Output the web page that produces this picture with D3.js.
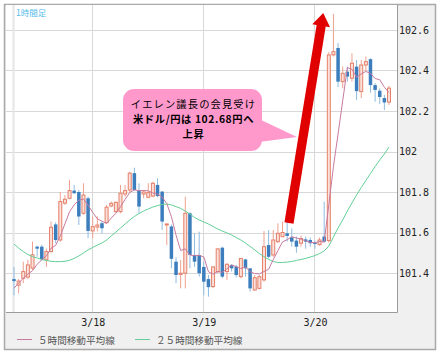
<!DOCTYPE html>
<html><head><meta charset="utf-8">
<script src="https://cdn.jsdelivr.net/npm/d3@7"></script>
<style>html,body{margin:0;padding:0;background:#fff;} svg{display:block}</style>
</head><body>
<svg id="c" width="440" height="357"></svg>
<script>
// ---- data (hourly USD/JPY, 3/17 07:00 .. 3/20 16:00) ----
const opens = [101.37,101.34,101.374,101.38,101.424,101.53,101.53,101.465,101.506,101.64,
101.563,101.745,101.769,101.807,101.80,101.695,101.769,101.608,101.627,101.646,
101.649,101.731,101.703,101.703,101.79,101.81,101.893,101.807,101.79,101.774,
101.78,101.835,101.802,101.638,101.63,101.456,101.393,101.399,101.695,101.489,
101.489,101.43,101.37,101.333,101.407,101.525,101.407,101.44,101.431,101.382,
101.467,101.423,101.316,101.324,101.366,101.538,101.489,101.555,101.579,101.596,
101.576,101.56,101.547,101.566,101.563,101.55,101.54,101.58,101.56,102.477,
102.511,102.345,102.394,102.362,102.419,102.296,102.427,102.456,102.328,102.30,
102.264,102.244];
const highs = [101.43,101.37,101.456,101.465,101.555,101.535,101.54,101.52,101.654,101.65,
101.80,101.785,101.86,101.835,101.81,101.843,101.777,101.68,101.68,101.654,
101.736,101.753,101.753,101.835,101.835,101.90,101.92,101.843,101.81,101.843,
101.851,101.868,101.805,101.645,101.64,101.478,101.464,101.777,101.70,101.596,
101.604,101.456,101.39,101.435,101.522,101.53,101.448,101.443,101.44,101.472,
101.47,101.423,101.39,101.39,101.607,101.612,101.612,101.645,101.653,101.653,
101.62,101.58,101.585,101.58,101.575,101.56,101.575,101.752,102.49,102.68,
102.536,102.42,102.42,102.485,102.452,102.452,102.469,102.46,102.337,102.312,
102.28,102.324];
const lows = [101.29,101.30,101.35,101.37,101.415,101.48,101.46,101.43,101.50,101.547,
101.555,101.736,101.764,101.79,101.637,101.687,101.572,101.572,101.605,101.596,
101.646,101.725,101.698,101.695,101.777,101.80,101.807,101.695,101.769,101.769,
101.774,101.774,101.613,101.538,101.423,101.35,101.324,101.324,101.423,101.43,
101.382,101.29,101.283,101.325,101.40,101.374,101.366,101.407,101.378,101.374,
101.382,101.308,101.313,101.319,101.357,101.472,101.48,101.547,101.579,101.555,
101.53,101.50,101.53,101.52,101.53,101.52,101.535,101.55,101.55,102.469,
102.318,102.312,102.345,102.345,102.254,102.263,102.394,102.29,102.246,102.235,
102.205,102.23];
const closes = [101.36,101.36,101.407,101.44,101.49,101.52,101.468,101.506,101.626,101.563,
101.753,101.764,101.807,101.794,101.679,101.785,101.608,101.629,101.637,101.621,
101.725,101.744,101.749,101.794,101.807,101.893,101.81,101.728,101.80,101.797,
101.843,101.78,101.654,101.642,101.47,101.39,101.399,101.695,101.489,101.456,
101.399,101.357,101.33,101.43,101.519,101.382,101.443,101.423,101.39,101.472,
101.423,101.324,101.377,101.382,101.53,101.48,101.563,101.596,101.60,101.583,
101.555,101.53,101.57,101.555,101.547,101.543,101.563,101.555,102.477,102.493,
102.345,102.386,102.37,102.436,102.298,102.427,102.444,102.328,102.304,102.269,
102.242,102.313];
// 5-hour MA values before enough bars are on screen
const ma5Lead = [101.325,101.35,101.374,101.395];
// 25-hour moving average
const ma25 = [101.543,101.523,101.506,101.491,101.481,101.474,101.467,101.462,101.458,101.456,
101.456,101.458,101.463,101.472,101.484,101.499,101.514,101.526,101.538,101.548,
101.563,101.583,101.602,101.622,101.642,101.662,101.679,101.694,101.706,101.716,
101.726,101.733,101.738,101.741,101.736,101.728,101.719,101.706,101.691,101.674,
101.662,101.652,101.642,101.630,101.617,101.607,101.598,101.588,101.575,101.563,
101.548,101.531,101.514,101.496,101.481,101.467,101.457,101.452,101.452,101.454,
101.457,101.462,101.467,101.472,101.479,101.486,101.496,101.509,101.533,101.578,
101.622,101.662,101.706,101.746,101.785,101.822,101.857,101.891,101.926,101.958,
101.988,102.022];
const dayIdx = [17,41,65];
const dayLabels = ["3/18","3/19","3/20"];
const yTicks = [101.4,101.6,101.8,102,102.2,102.4,102.6];
const legendLabels = ["５時間移動平均線","２５時間移動平均線"];
const calloutLines = ["イエレン議長の会見受け","米ドル/円は 102.68円へ","上昇"];
const arrowFrom = [59.4, 101.647];
const arrowTo = [66.8, 102.684];

// ---- derived ----
const ma5 = closes.map((c,i)=> i<4 ? ma5Lead[i] : d3.mean(closes.slice(i-4,i+1)));

const svg = d3.select("#c");
const plot = {l:6, t:5, r:397, b:312};
const x = d3.scaleLinear().domain([0,81]).range([14,389]);
const y = d3.scaleLinear().domain([101.4,102.6]).range([273,30]);

// frame
svg.append("rect").attr("x",4.5).attr("y",4.5).attr("width",431).attr("height",345)
  .attr("fill","#f0f0f0").attr("stroke","#a9a9a9").attr("stroke-width",1.5);
svg.append("rect").attr("x",plot.l).attr("y",plot.t).attr("width",plot.r-plot.l).attr("height",plot.b-plot.t)
  .attr("fill","#fff");
svg.append("line").attr("x1",plot.r+0.5).attr("x2",plot.r+0.5).attr("y1",plot.t).attr("y2",plot.b+0.5).attr("stroke","#9a9a9a");
svg.append("line").attr("x1",plot.l).attr("x2",plot.r+0.5).attr("y1",plot.b+0.5).attr("y2",plot.b+0.5).attr("stroke","#9a9a9a");

svg.append("clipPath").attr("id","clip").append("rect")
  .attr("x",plot.l).attr("y",plot.t).attr("width",plot.r-plot.l).attr("height",plot.b-plot.t);
const g = svg.append("g").attr("clip-path","url(#clip)");

// grid
g.selectAll("line.hg").data(yTicks).join("line").attr("class","hg")
  .attr("x1",plot.l).attr("x2",plot.r).attr("y1",d=>Math.round(y(d))+0.5).attr("y2",d=>Math.round(y(d))+0.5)
  .attr("stroke","#d8d8d8");
g.selectAll("line.vg").data(dayIdx).join("line").attr("class","vg")
  .attr("x1",d=>Math.round(x(d))-0.5).attr("x2",d=>Math.round(x(d))-0.5).attr("y1",plot.t).attr("y2",plot.b)
  .attr("stroke","#d8d8d8");
g.append("line").attr("x1",Math.round(x(0))-0.5).attr("x2",Math.round(x(0))-0.5).attr("y1",plot.t).attr("y2",plot.b)
  .attr("stroke","#e6e6e6").attr("stroke-width",2);

// top-left label
svg.append("text").attr("x",16).attr("y",15.5).text("1時間足")
  .attr("font-family","'Noto Sans CJK JP'").attr("font-size",8.5).attr("fill","#55bde8");

// candles
const idx = d3.range(closes.length);
const up = i => closes[i] >= opens[i];
g.selectAll("line.wick").data(idx).join("line").attr("class","wick")
  .attr("x1",i=>x(i)).attr("x2",i=>x(i)).attr("y1",i=>y(highs[i])).attr("y2",i=>y(lows[i]))
  .attr("stroke",i=>up(i)?"#eea08f":"#8fbbe0").attr("stroke-width",1);
g.selectAll("rect.body").data(idx).join("rect").attr("class","body")
  .attr("x",i=>x(i)-(up(i)?1.5:1.75))
  .attr("width",i=>up(i)?3:3.5)
  .attr("y",i=>y(Math.max(opens[i],closes[i])))
  .attr("height",i=>Math.max(1,Math.abs(y(opens[i])-y(closes[i]))))
  .attr("fill",i=>up(i)?"#fbe1d9":"#3c7ebd")
  .attr("stroke",i=>up(i)?"#e5806a":"none").attr("stroke-width",1);

// moving averages
const line = d3.line().x((d,i)=>x(i)).y(d=>y(d));
g.append("path").datum(ma25).attr("d",line).attr("fill","none").attr("stroke","#62cf97").attr("stroke-width",1);
g.append("path").datum(ma5).attr("d",line).attr("fill","none").attr("stroke","#c87a9f").attr("stroke-width",1);

// callout
const cal = svg.append("g");
cal.append("path").attr("d","M259,119 L297,137 L259,142 Z").attr("fill","#ff99cc");
cal.append("rect").attr("x",123).attr("y",89).attr("width",139).attr("height",62).attr("rx",11)
  .attr("fill","#ff99cc");
calloutLines.forEach((t,k)=>{
  cal.append("text").attr("x",193.5).attr("y",108+k*15).attr("text-anchor","middle")
    .attr("font-family","'Noto Sans CJK JP'").attr("font-size",10.3)
    .attr("letter-spacing",k===0?1.1:0.6)
    .attr("font-weight",k===0?"normal":"bold").attr("fill","#000").text(t);
});

// red arrow
(function(){
  const B=[x(arrowFrom[0]),y(arrowFrom[1])], T=[x(arrowTo[0]),y(arrowTo[1])];
  const dx=T[0]-B[0], dy=T[1]-B[1], L=Math.hypot(dx,dy);
  const u=[dx/L,dy/L], n=[-u[1],u[0]];
  const hw=4.6, hh=9, hl=13;
  const H0=[T[0]-u[0]*hl,T[1]-u[1]*hl];
  const p=(a,s)=>[a[0]+n[0]*s,a[1]+n[1]*s];
  const pts=[p(B,-hw),p(B,hw),p(H0,hw),p(H0,hh),T,p(H0,-hh),p(H0,-hw)];
  svg.append("polygon").attr("points",pts.map(q=>q.join(",")).join(" ")).attr("fill","#e00000");
})();

// axes
const ya = svg.append("g").attr("transform",`translate(${plot.r},0)`)
  .call(d3.axisRight(y).tickValues(yTicks).tickSize(0).tickPadding(2).tickFormat(d=>String(d)));
ya.select(".domain").remove();
ya.selectAll("text").attr("font-family","'DejaVu Sans Mono'").attr("font-size",10).attr("fill","#222");

const xa = svg.append("g").attr("transform",`translate(0,${plot.b})`)
  .call(d3.axisBottom(x).tickValues(dayIdx).tickSize(0).tickPadding(7).tickFormat((d,i)=>dayLabels[i]));
xa.select(".domain").remove();
xa.selectAll("text").attr("font-family","'DejaVu Sans Mono'").attr("font-size",10).attr("fill","#222");

// legend
const leg = [{x:17,c:"#c87a9f"},{x:135,c:"#62cf97"}];
leg.forEach((l,k)=>{
  svg.append("line").attr("x1",l.x).attr("x2",l.x+15).attr("y1",339.5).attr("y2",339.5).attr("stroke",l.c);
  svg.append("text").attr("x",l.x+21).attr("y",343.5).text(legendLabels[k])
    .attr("font-family","'Noto Sans CJK JP'").attr("font-size",9.6).attr("fill","#555");
});
</script>
</body></html>
